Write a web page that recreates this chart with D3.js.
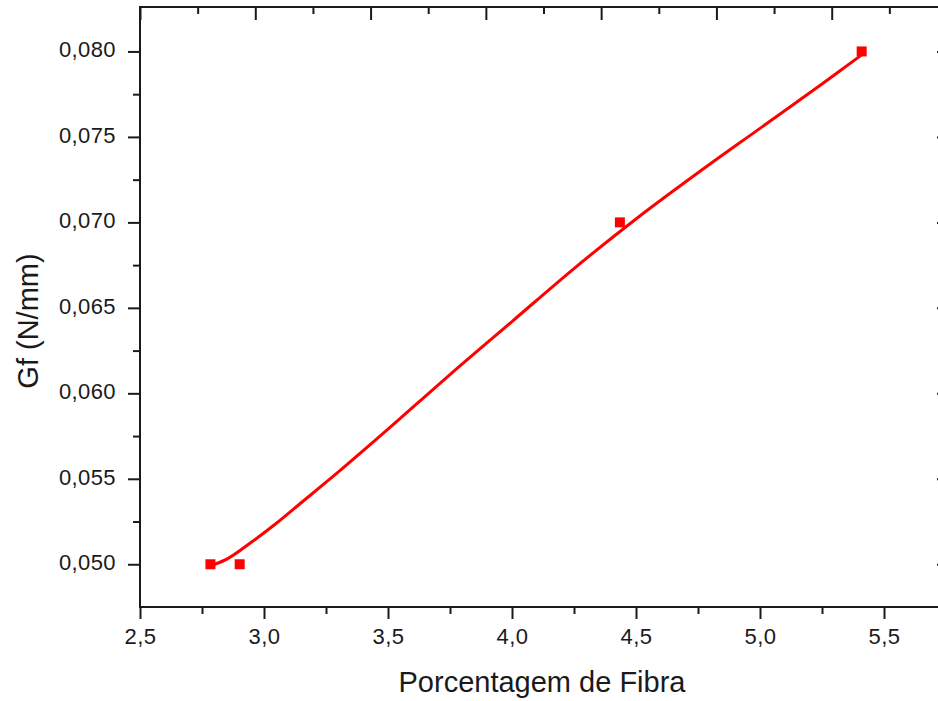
<!DOCTYPE html>
<html>
<head>
<meta charset="utf-8">
<script src="https://cdn.jsdelivr.net/npm/d3@7"></script>
<style>
  html, body { margin: 0; padding: 0; background: #ffffff; }
  svg { display: block; }
  text { font-family: "Liberation Sans", Arial, sans-serif; fill: #1a1a1a; }
</style>
</head>
<body>
<svg id="chart" width="938" height="701"></svg>
<script>
// ---- data ----
const pointsX = [2.784, 2.902, 4.435, 5.410];
const pointsY = [0.0500, 0.0500, 0.0700, 0.0800];

const fitX = [2.78, 2.85, 2.95, 3.05, 3.15, 3.30, 3.50, 3.75, 4.00, 4.25, 4.50, 4.75, 5.00, 5.25, 5.41];
const fitY = [0.0499, 0.0503, 0.0513, 0.0524, 0.0536, 0.0554, 0.0579, 0.0611, 0.0642, 0.0673, 0.0702, 0.0729, 0.0755, 0.0781, 0.0798];

const xMajorTicks = [2.5, 3.0, 3.5, 4.0, 4.5, 5.0, 5.5];
const xMinorTicks = [2.75, 3.25, 3.75, 4.25, 4.75, 5.25, 5.75];
const yMajorTicks = [0.050, 0.055, 0.060, 0.065, 0.070, 0.075, 0.080];
const yMinorTicks = [0.0525, 0.0575, 0.0625, 0.0675, 0.0725, 0.0775];
const topMajorTicks = [2.5, 3.0, 3.5, 4.0, 4.5, 5.0, 5.5];
const topMinorTicks = [2.75, 3.25, 3.75, 4.25, 4.75, 5.25, 5.75];

const xTitle = "Porcentagem de Fibra";
const yTitle = "Gf (N/mm)";

// ---- layout ----
const svg = d3.select("#chart");
const mLeft = 140, mRight = 946, mTop = 7, mBottom = 607;

const x = d3.scaleLinear().domain([2.5, 5.75]).range([mLeft, mRight]);
const xTop = d3.scaleLinear().domain([2.5, 6.0]).range([mLeft, mRight + 1]);
const y = d3.scaleLinear().domain([0.0475, 0.0826]).range([mBottom, mTop]);

const fmtX = v => d3.format(".1f")(v).replace(".", ",");
const fmtY = v => d3.format(".3f")(v).replace(".", ",");

const axisColor = "#1a1a1a";
function styleAxis(g) {
  g.select(".domain").remove();
  g.selectAll(".tick line").attr("stroke", axisColor).attr("stroke-width", 2);
  g.selectAll(".tick text")
    .attr("fill", "#1a1a1a")
    .style("font-family", "'Liberation Sans', Arial, sans-serif")
    .style("font-size", "22px")
    .style("letter-spacing", "0.4px");
}

// bottom axis
svg.append("g").attr("transform", `translate(0,${mBottom})`)
  .call(d3.axisBottom(x).tickValues(xMajorTicks).tickSize(12).tickPadding(9).tickFormat(fmtX))
  .call(styleAxis);
svg.append("g").attr("transform", `translate(0,${mBottom})`)
  .call(d3.axisBottom(x).tickValues(xMinorTicks).tickSize(7).tickFormat(""))
  .call(styleAxis);

// top axis (inward ticks)
svg.append("g").attr("transform", `translate(0,${mTop})`)
  .call(d3.axisBottom(xTop).tickValues(topMajorTicks).tickSize(13).tickFormat(""))
  .call(styleAxis);
svg.append("g").attr("transform", `translate(0,${mTop})`)
  .call(d3.axisBottom(xTop).tickValues(topMinorTicks).tickSize(7).tickFormat(""))
  .call(styleAxis);

// left axis
svg.append("g").attr("transform", `translate(${mLeft},0)`)
  .call(d3.axisLeft(y).tickValues(yMajorTicks).tickSize(12).tickPadding(12).tickFormat(fmtY))
  .call(styleAxis)
  .call(g => g.selectAll(".tick text").attr("dy", "0.25em"));
svg.append("g").attr("transform", `translate(${mLeft},0)`)
  .call(d3.axisLeft(y).tickValues(yMinorTicks).tickSize(7).tickFormat(""))
  .call(styleAxis);

// right axis (inward ticks)
svg.append("g").attr("transform", `translate(${mRight},0)`)
  .call(d3.axisLeft(y).tickValues(yMajorTicks).tickSize(9).tickFormat(""))
  .call(styleAxis);

// frame lines
const frame = svg.append("g").attr("stroke", axisColor).attr("stroke-width", 2);
frame.append("line").attr("x1", mLeft).attr("x2", mRight + 2).attr("y1", mBottom).attr("y2", mBottom);
frame.append("line").attr("x1", mLeft).attr("x2", mRight + 2).attr("y1", mTop).attr("y2", mTop);
frame.append("line").attr("x1", mLeft).attr("x2", mLeft).attr("y1", mTop - 1).attr("y2", mBottom + 1);
frame.append("line").attr("x1", mRight).attr("x2", mRight).attr("y1", mTop - 1).attr("y2", mBottom + 1);

// fit curve
const fitData = fitX.map((v, i) => [v, fitY[i]]);
svg.append("path")
  .datum(fitData)
  .attr("fill", "none")
  .attr("stroke", "#ff0000")
  .attr("stroke-width", 3)
  .attr("stroke-linejoin", "round")
  .attr("d", d3.line().x(d => x(d[0])).y(d => y(d[1])).curve(d3.curveCatmullRom.alpha(0.5)));

// markers
const ptData = pointsX.map((v, i) => [v, pointsY[i]]);
const sz = 10;
svg.append("g").selectAll("rect").data(ptData).join("rect")
  .attr("x", d => x(d[0]) - sz / 2)
  .attr("y", d => y(d[1]) - sz / 2)
  .attr("width", sz).attr("height", sz)
  .attr("fill", "#ff0000");

// titles
svg.append("text")
  .attr("x", 542).attr("y", 692)
  .attr("text-anchor", "middle")
  .style("font-size", "29px")
  .text(xTitle);

svg.append("text")
  .attr("transform", "translate(37.5,321) rotate(-90)")
  .attr("text-anchor", "middle")
  .style("font-size", "29px")
  .text(yTitle);
</script>
</body>
</html>
